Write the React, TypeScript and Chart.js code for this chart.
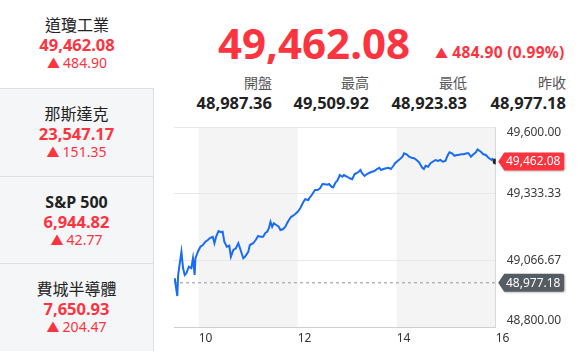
import React, { useEffect, useRef } from 'react';
import { Chart, registerables } from 'chart.js';

Chart.register(...registerables);

// ---- data ----
const indexNames = ['道瓊工業', '那斯達克', 'S&P 500', '費城半導體'];
const indexPrices = ['49,462.08', '23,547.17', '6,944.82', '7,650.93'];
const indexChanges = ['484.90', '151.35', '42.77', '204.47'];

const lastPriceText = '49,462.08';
const changeText = '484.90 (0.99%)';
const statLabels = ['開盤', '最高', '最低', '昨收'];
const statValues = ['48,987.36', '49,509.92', '48,923.83', '48,977.18'];
const prevClose = 48977.18;
const lastPrice = 49462.08;

// minutes since 09:30
const minutes = [
  0, 1, 2, 4, 5, 7, 9, 11, 13, 15, 18, 21, 23, 25, 26, 29, 32, 35, 38, 41, 44, 47, 49, 51, 54, 57, 59,
  61, 64, 67, 69, 72, 75, 78, 81, 84, 86, 90, 92, 96, 99, 102, 105, 108, 111, 113, 115, 117, 119,
  121, 124, 127, 129, 132, 135, 138, 142, 144, 147, 150, 153, 157, 159, 163, 164, 167, 171, 174, 177,
  180, 183, 186, 188, 191, 193, 196, 198, 201, 204, 206, 210, 213, 216, 219, 221, 224, 226, 228, 231,
  234, 237, 240, 243, 246, 249, 251, 254, 257, 260, 263, 266, 268, 271, 274, 277, 279, 282, 285, 288,
  291, 294, 297, 299, 301, 303, 305, 308, 311, 315, 317, 320, 323, 326, 329, 332, 334, 337, 340, 343,
  345, 348, 351, 355, 357, 360, 363, 366, 368, 372, 375, 378, 380, 382, 385, 386, 389, 390,
];
const values = [
  48987, 48995, 48968, 48924, 49008, 49055, 49101, 49035, 49008, 49015, 49041, 49035, 49075, 49008,
  49075, 49101, 49121, 49128, 49141, 49148, 49157, 49161, 49135, 49161, 49184, 49179, 49181,
  49141, 49121, 49125, 49081, 49108, 49115, 49135, 49105, 49075, 49081, 49101, 49128, 49135, 49148,
  49164, 49161, 49161, 49177, 49181, 49195, 49221, 49201,
  49215, 49208, 49201, 49188, 49191, 49201, 49221, 49241, 49244, 49252, 49261, 49275, 49301, 49311,
  49308, 49315, 49328, 49348, 49348, 49355,
  49372, 49371, 49369, 49372, 49361, 49359, 49379, 49385, 49408, 49401, 49408, 49401, 49395, 49391,
  49412, 49415, 49421, 49428, 49415, 49404,
  49412, 49417, 49421, 49424, 49432, 49437, 49428, 49432, 49435, 49437, 49432, 49445, 49455, 49464,
  49472, 49481, 49495, 49491, 49481, 49477,
  49475, 49468, 49459, 49448, 49437, 49432, 49445, 49441, 49455, 49464, 49468, 49464, 49468, 49461,
  49464, 49488, 49499, 49495, 49485, 49488,
  49488, 49491, 49491, 49495, 49495, 49481, 49491, 49499, 49510, 49501, 49491, 49488, 49481, 49475,
  49468, 49472, 49464, 49462.08,
];

const xTickMinutes = [30, 150, 270, 390];
const xTickLabels = ['10', '12', '14', '16'];
const yTicks = [48800, 49066.67, 49333.33, 49600];
const shadedRanges = [
  [30, 150],
  [270, 390],
];

// ---- styles ----
const RED = '#fb3440';
const BLUE = '#1a6cf5';
const FONT = '"Noto Sans", "Noto Sans CJK TC", sans-serif';

const fmt = (n: number) =>
  n.toLocaleString('en-US', { minimumFractionDigits: 2, maximumFractionDigits: 2 });

function drawBadge(ctx: CanvasRenderingContext2D, tipX: number, yc: number, text: string, color: string) {
  const h = 18;
  const bodyL = tipX + 6;
  const bodyR = tipX + 66;
  const r = 2;
  ctx.save();
  ctx.shadowColor = 'rgba(0,0,0,0.25)';
  ctx.shadowBlur = 2;
  ctx.shadowOffsetX = 1;
  ctx.shadowOffsetY = 1;
  ctx.fillStyle = color;
  ctx.beginPath();
  ctx.moveTo(tipX, yc);
  ctx.lineTo(bodyL, yc - h / 2);
  ctx.lineTo(bodyR - r, yc - h / 2);
  ctx.quadraticCurveTo(bodyR, yc - h / 2, bodyR, yc - h / 2 + r);
  ctx.lineTo(bodyR, yc + h / 2 - r);
  ctx.quadraticCurveTo(bodyR, yc + h / 2, bodyR - r, yc + h / 2);
  ctx.lineTo(bodyL, yc + h / 2);
  ctx.closePath();
  ctx.fill();
  ctx.restore();
  ctx.save();
  ctx.fillStyle = '#fff';
  ctx.font = `12px ${FONT}`;
  ctx.textAlign = 'center';
  ctx.textBaseline = 'middle';
  ctx.fillText(text, (bodyL + bodyR) / 2 - 1, yc + 0.5);
  ctx.restore();
}

const overlayPlugin = {
  id: 'overlay',
  beforeDraw(chart: any) {
    const { ctx, chartArea: a, scales } = chart;
    const x = scales.x;
    ctx.save();
    ctx.fillStyle = '#f4f4f4';
    shadedRanges.forEach(([s, e]) => {
      const x0 = x.getPixelForValue(s);
      const x1 = x.getPixelForValue(e);
      ctx.fillRect(x0, a.top, x1 - x0, a.bottom - a.top);
    });
    ctx.restore();
  },
  beforeDatasetsDraw(chart: any) {
    const { ctx, chartArea: a, scales } = chart;
    const yp = scales.y.getPixelForValue(prevClose);
    ctx.save();
    ctx.strokeStyle = '#b5b5b5';
    ctx.lineWidth = 1.5;
    ctx.setLineDash([3, 3]);
    ctx.beginPath();
    ctx.moveTo(a.left, yp);
    ctx.lineTo(a.right, yp);
    ctx.stroke();
    ctx.restore();
  },
  afterDraw(chart: any) {
    const { ctx, chartArea: a, scales } = chart;
    const y = scales.y;
    ctx.save();
    ctx.fillStyle = '#3a3a3a';
    ctx.font = `12px ${FONT}`;
    ctx.textAlign = 'left';
    ctx.textBaseline = 'middle';
    yTicks.forEach((v, i) => {
      let yp = y.getPixelForValue(v);
      if (i === 0) yp -= 6;
      if (i === yTicks.length - 1) yp += 6;
      ctx.fillText(fmt(v), a.right + 11, yp);
    });
    ctx.restore();
    drawBadge(ctx, a.right + 2.5, y.getPixelForValue(prevClose), fmt(prevClose), '#555c62');
    drawBadge(ctx, a.right + 2.5, y.getPixelForValue(lastPrice), fmt(lastPrice), RED);
  },
};

function PriceChart() {
  const ref = useRef<HTMLCanvasElement | null>(null);
  useEffect(() => {
    if (!ref.current) return;
    const last = values.length - 1;
    const chart = new Chart(ref.current, {
      type: 'line',
      data: {
        datasets: [
          {
            data: minutes.map((m, i) => ({ x: m, y: values[i] })),
            borderColor: BLUE,
            borderWidth: 2,
            tension: 0,
            pointRadius: (c: any) => (c.dataIndex === last ? 3 : 0),
            pointBackgroundColor: '#222',
            pointBorderWidth: 0,
          },
        ],
      },
      options: {
        animation: false,
        responsive: false,
        devicePixelRatio: 1,
        layout: { padding: { left: 14, top: 7, right: 0, bottom: 0 } },
        plugins: { legend: { display: false }, tooltip: { enabled: false } },
        scales: {
          x: {
            type: 'linear',
            min: 0,
            max: 390,
            afterBuildTicks: (s: any) => {
              s.ticks = xTickMinutes.map((v) => ({ value: v }));
            },
            afterFit: (s: any) => {
              s.height = 26;
            },
            grid: { display: false, drawTicks: false },
            border: { display: true, color: '#cfcfcf', width: 1 },
            ticks: {
              align: 'start',
              padding: 4,
              color: '#333',
              font: { family: FONT, size: 12 },
              maxRotation: 0,
              callback: (v: any) => {
                const i = xTickMinutes.indexOf(Number(v));
                return i >= 0 ? xTickLabels[i] : '';
              },
            },
          },
          y: {
            type: 'linear',
            position: 'right',
            min: 48800,
            max: 49600,
            afterBuildTicks: (s: any) => {
              s.ticks = yTicks.map((v) => ({ value: v }));
            },
            afterFit: (s: any) => {
              s.width = 92.3;
            },
            grid: { color: '#e8e8e8', drawTicks: false },
            border: { display: true, color: '#d9d9d9', width: 1 },
            ticks: { display: false },
          },
        },
      } as any,
      plugins: [overlayPlugin],
    });
    return () => chart.destroy();
  }, []);
  return (
    <canvas
      ref={ref}
      width={428}
      height={233}
      style={{ position: 'absolute', left: 160, top: 120, width: 428, height: 233 }}
    />
  );
}

export default function App() {
  const rowH = 87.75;
  const statRight = [272, 369, 467, 566];
  return (
    <div
      style={{
        position: 'fixed',
        left: 0,
        top: 0,
        width: 588,
        height: 353,
        background: '#fff',
        fontFamily: FONT,
        overflow: 'hidden',
      }}
    >
      {indexNames.map((name, i) => (
        <div
          key={name}
          style={{
            position: 'absolute',
            left: 0,
            top: i * rowH,
            width: 154,
            height: rowH,
            background: i === 0 ? '#fff' : '#f5f6f8',
            borderTop: i === 0 ? 'none' : '1px solid #dcdfe3',
            borderRight: i === 0 ? 'none' : '1px solid #dcdfe3',
            boxSizing: 'border-box',
            textAlign: 'center',
          }}
        >
          <div
            style={{
              position: 'absolute',
              left: 0,
              right: 0,
              top: 14,
              lineHeight: '22px',
              fontSize: 16,
              color: '#222',
              fontWeight: /[A-Za-z]/.test(name) ? 700 : 400,
            }}
          >
            {name}
          </div>
          <div
            style={{
              position: 'absolute',
              left: 0,
              right: 0,
              top: 35,
              lineHeight: '20px',
              fontSize: 16.5,
              fontWeight: 700,
              color: RED,
            }}
          >
            {indexPrices[i]}
          </div>
          <div
            style={{
              position: 'absolute',
              left: 0,
              right: 0,
              top: 54,
              lineHeight: '18px',
              fontSize: 14,
              color: RED,
            }}
          >
            <span style={{ fontSize: 13, marginRight: 3 }}>▲</span>
            {indexChanges[i]}
          </div>
        </div>
      ))}

      <div
        style={{
          position: 'absolute',
          right: 588 - 410,
          top: 18,
          lineHeight: '50px',
          fontSize: 42,
          fontWeight: 700,
          color: RED,
          whiteSpace: 'nowrap',
        }}
      >
        {lastPriceText}
      </div>
      <div
        style={{
          position: 'absolute',
          left: 435,
          top: 42,
          lineHeight: '20px',
          fontSize: 15.5,
          letterSpacing: 0.3,
          fontWeight: 700,
          color: RED,
          whiteSpace: 'nowrap',
        }}
      >
        <span style={{ fontSize: 13, marginRight: 4, fontWeight: 400 }}>▲</span>
        {changeText}
      </div>

      {statLabels.map((lab, i) => (
        <React.Fragment key={lab}>
          <div
            style={{
              position: 'absolute',
              right: 588 - statRight[i],
              top: 73,
              lineHeight: '20px',
              fontSize: 14,
              color: '#555',
              whiteSpace: 'nowrap',
            }}
          >
            {lab}
          </div>
          <div
            style={{
              position: 'absolute',
              right: 588 - statRight[i],
              top: 92,
              lineHeight: '21px',
              fontSize: 16.5,
              fontWeight: 700,
              color: '#222',
              whiteSpace: 'nowrap',
            }}
          >
            {statValues[i]}
          </div>
        </React.Fragment>
      ))}

      <PriceChart />
    </div>
  );
}
